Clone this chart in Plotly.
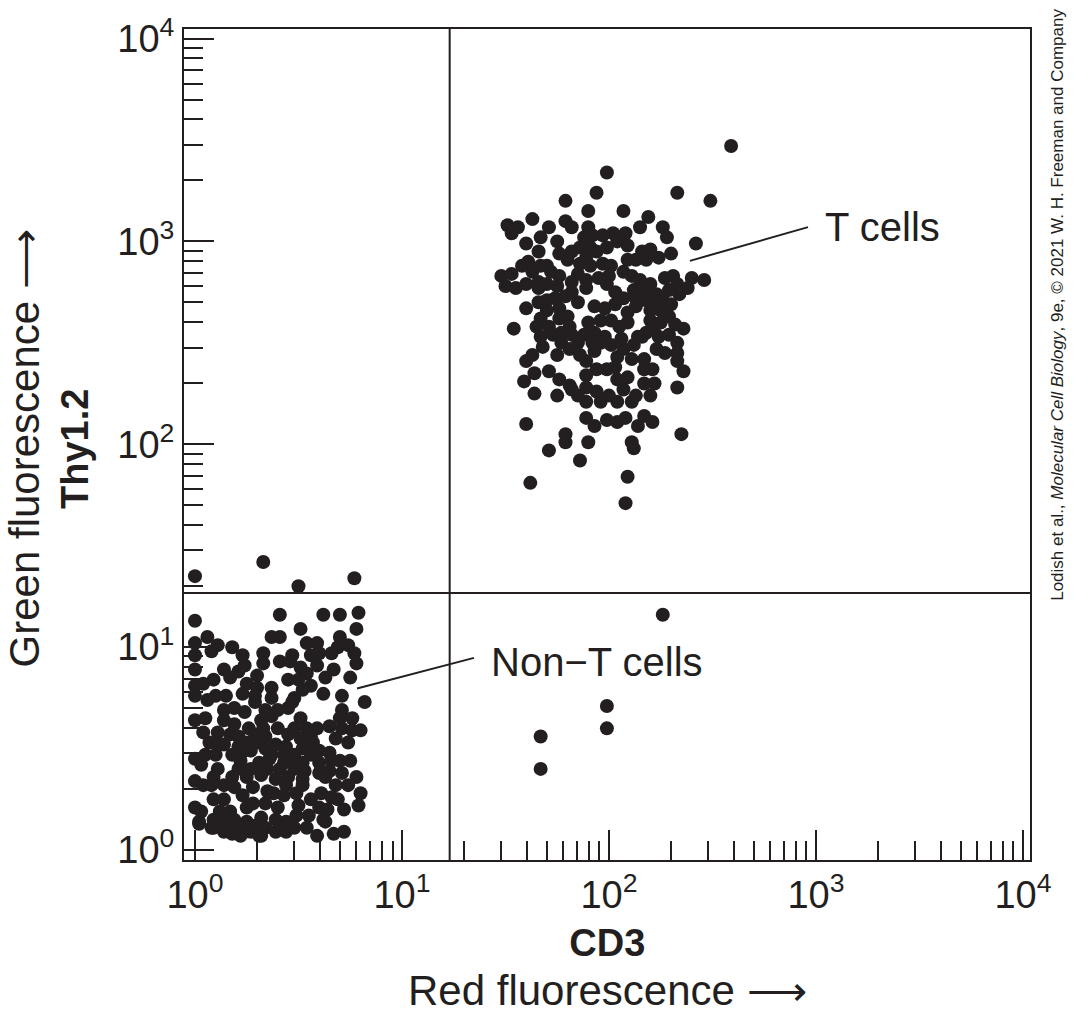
import plotly.graph_objects as go

# ---- data: (log10 CD3 red fluorescence, log10 Thy1.2 green fluorescence) ----
t_cells_log10 = [
    (2.59,3.47),(1.99,3.34),(1.94,3.24),(2.33,3.24),(2.49,3.20),(1.79,3.20),(1.90,3.15),(2.07,3.15),(1.63,3.11),(1.79,3.10),
    (2.19,3.12),(1.51,3.08),(1.56,3.07),(1.53,3.04),(1.71,3.07),(1.82,3.07),(1.90,3.07),(2.15,3.07),(2.26,3.07),(1.67,3.02),
    (1.60,2.99),(1.75,3.00),(1.88,3.02),(1.92,3.03),(1.97,3.03),(2.02,3.04),(2.08,3.04),(2.28,3.02),(2.42,2.99),(2.04,3.00),
    (2.09,2.98),(1.66,2.95),(1.76,2.94),(1.82,2.95),(1.86,2.97),(1.91,2.97),(1.94,2.95),(1.99,2.97),(2.16,2.95),(2.20,2.96),
    (2.30,2.94),(2.24,2.92),(1.61,2.90),(1.80,2.91),(2.09,2.91),(2.13,2.91),(2.18,2.91),(1.89,2.92),
    (1.48,2.83),(1.53,2.84),(1.50,2.78),(1.55,2.77),(1.58,2.88),(1.63,2.85),(1.60,2.79),(1.67,2.88),(1.70,2.88),(1.72,2.85),
    (1.76,2.83),(1.66,2.80),(1.66,2.77),(1.70,2.79),(1.75,2.78),(1.82,2.80),(1.82,2.75),(1.85,2.84),(1.89,2.81),(1.89,2.77),
    (1.95,2.82),(1.99,2.79),(2.00,2.83),(2.03,2.75),(1.86,2.89),(1.91,2.88),(1.97,2.89),(2.01,2.88),(2.07,2.85),(2.11,2.83),
    (2.15,2.81),(2.20,2.79),(2.12,2.76),(2.17,2.75),(2.23,2.74),(2.27,2.82),(2.31,2.83),(2.33,2.79),(2.38,2.77),(2.40,2.82),
    (2.46,2.81),(2.34,2.74),(2.29,2.76),(2.26,2.71),(2.30,2.69),(2.21,2.71),(2.18,2.71),(2.13,2.72),(2.07,2.72),(2.13,2.68),
    (2.20,2.66),(2.25,2.66),(2.09,2.65),(2.03,2.69),(1.98,2.67),(1.93,2.68),(1.85,2.70),(1.79,2.73),(1.74,2.72),(1.70,2.71),
    (1.66,2.70),(1.76,2.67),(1.60,2.67),(1.70,2.66),(1.67,2.62),(1.76,2.62),(1.80,2.63),(1.54,2.57),(1.65,2.58),(1.71,2.58),
    (1.81,2.58),(1.90,2.60),(1.96,2.61),(2.01,2.61),(2.05,2.58),(2.09,2.60),(2.20,2.61),(2.25,2.60),(2.29,2.63),(2.32,2.59),
    (2.36,2.57),(2.29,2.54),(2.24,2.53),(2.18,2.55),(2.14,2.53),(2.22,2.58),(2.06,2.52),(1.98,2.53),(1.93,2.55),(1.88,2.54),
    (1.82,2.54),(1.77,2.55),(1.73,2.54),(1.67,2.53),(1.77,2.50),(1.81,2.47),(1.85,2.50),(1.92,2.50),(1.96,2.50),(2.01,2.49),
    (2.12,2.49),(2.16,2.53),(2.23,2.47),(2.27,2.45),(2.33,2.50),(2.33,2.45),(1.68,2.48),(1.63,2.44),(1.60,2.41),(1.75,2.44),
    (1.86,2.44),(1.93,2.46),(1.89,2.41),(2.04,2.43),(2.07,2.47),(2.11,2.42),(2.17,2.42),(2.33,2.41),(2.36,2.36),(2.17,2.37),
    (2.21,2.37),(2.09,2.33),(2.03,2.38),(1.99,2.37),(1.94,2.37),(1.89,2.34),(1.76,2.32),(1.71,2.36),(1.64,2.35),(1.59,2.31),
    (1.81,2.29),(2.04,2.32),(2.17,2.30),(2.22,2.30),(2.33,2.28),
    (1.64,2.25),(1.75,2.24),(1.82,2.27),(1.85,2.24),(1.89,2.28),(1.89,2.21),(1.94,2.26),(1.96,2.21),(2.00,2.24),(2.04,2.21),
    (2.07,2.27),(2.11,2.21),(2.13,2.24),(2.20,2.24),(1.60,2.10),(1.89,2.13),(1.93,2.09),(1.99,2.12),(2.04,2.11),(2.08,2.13),
    (2.14,2.09),(2.17,2.14),(2.21,2.11),(2.35,2.05),(1.79,2.05),(1.79,2.01),(1.90,2.01),(1.71,1.97),(2.11,2.01),(2.12,1.98),
    (1.86,1.92),(2.09,1.84),(1.62,1.81),(2.08,1.71),
]

non_t_cells_log10 = [
    (0.00,1.13),(0.41,1.16),(0.62,1.16),(0.70,1.16),(0.79,1.17),(0.51,1.09),(0.78,1.09),(0.06,1.05),(0.37,1.05),(0.41,1.05),
    (0.70,1.05),(0.00,1.02),(0.11,1.01),(0.08,0.98),(0.18,1.00),(0.23,0.96),(0.33,0.97),(0.54,1.02),(0.59,1.02),(0.69,1.00),
    (0.74,1.01),(0.00,0.96),(0.33,0.92),(0.41,0.93),(0.47,0.96),(0.46,0.93),(0.56,0.96),(0.60,0.97),(0.66,0.97),(0.77,0.97),
    (0.78,0.92),(0.59,0.91),(0.51,0.90),(0.00,0.89),(0.14,0.89),(0.21,0.88),(0.24,0.91),(0.54,0.87),(0.67,0.89),(0.63,0.85),
    (0.75,0.85),(0.09,0.84),(0.17,0.85),(0.30,0.86),(0.45,0.84),(0.50,0.84),(0.04,0.82),(0.00,0.81),(0.25,0.82),(0.56,0.81),
    (0.52,0.79),(0.30,0.80),(0.37,0.80),(0.00,0.76),(0.10,0.76),(0.15,0.76),(0.23,0.77),(0.29,0.76),(0.37,0.75),(0.48,0.75),
    (0.62,0.77),(0.71,0.76),(0.06,0.74),(0.82,0.73),(0.29,0.73),(0.47,0.73),(0.14,0.69),(0.19,0.70),(0.24,0.68),(0.34,0.69),
    (0.40,0.69),(0.45,0.70),(0.71,0.69),(0.00,0.64),(0.05,0.65),(0.14,0.64),(0.32,0.64),(0.37,0.66),(0.51,0.65),(0.70,0.65),
    (0.76,0.65),(0.19,0.62),(0.26,0.60),(0.33,0.60),(0.40,0.60),(0.48,0.60),(0.54,0.60),(0.59,0.60),(0.65,0.61),(0.71,0.60),
    (0.76,0.59),(0.80,0.59),(0.04,0.58),(0.11,0.58),(0.17,0.57),(0.21,0.56),(0.29,0.57),(0.34,0.56),(0.45,0.57),(0.51,0.55),
    (0.56,0.56),(0.68,0.55),(0.74,0.53),(0.07,0.53),(0.11,0.52),(0.14,0.52),(0.21,0.51),(0.25,0.53),(0.30,0.53),(0.39,0.52),
    (0.44,0.51),(0.57,0.53),(0.52,0.50),(0.24,0.49),(0.27,0.49),(0.34,0.50),(0.05,0.47),(0.10,0.47),(0.18,0.47),(0.37,0.47),
    (0.43,0.47),(0.48,0.47),(0.56,0.47),(0.60,0.49),(0.65,0.48),(0.00,0.45),(0.03,0.42),(0.22,0.44),(0.31,0.43),(0.36,0.45),
    (0.43,0.43),(0.48,0.44),(0.52,0.43),(0.60,0.43),(0.66,0.44),(0.70,0.44),(0.75,0.44),(0.11,0.40),(0.21,0.40),(0.27,0.40),
    (0.35,0.40),(0.41,0.40),(0.48,0.40),(0.53,0.39),(0.60,0.38),(0.65,0.39),(0.71,0.38),(0.00,0.34),(0.09,0.36),(0.18,0.36),
    (0.25,0.36),(0.32,0.37),(0.39,0.35),(0.45,0.36),(0.52,0.35),(0.63,0.36),(0.78,0.36),(0.04,0.32),(0.08,0.32),(0.14,0.32),
    (0.19,0.31),(0.28,0.31),(0.35,0.29),(0.44,0.32),(0.52,0.32),(0.68,0.32),(0.74,0.32),(0.23,0.27),(0.38,0.28),(0.43,0.27),
    (0.49,0.28),(0.61,0.28),(0.66,0.26),(0.80,0.28),(0.09,0.25),(0.14,0.25),(0.34,0.23),(0.56,0.25),(0.69,0.25),(0.00,0.21),
    (0.03,0.19),(0.12,0.19),(0.17,0.19),(0.25,0.21),(0.28,0.23),(0.40,0.21),(0.50,0.22),(0.60,0.21),(0.64,0.20),(0.72,0.20),
    (0.79,0.22),(0.02,0.14),(0.09,0.15),(0.14,0.15),(0.19,0.15),(0.25,0.14),(0.32,0.16),(0.39,0.15),(0.44,0.14),(0.49,0.17),
    (0.55,0.17),(0.62,0.15),(0.09,0.11),(0.13,0.11),(0.18,0.12),(0.22,0.11),(0.29,0.12),(0.34,0.11),(0.39,0.09),(0.43,0.11),
    (0.48,0.11),(0.54,0.11),(0.14,0.09),(0.19,0.09),(0.24,0.09),(0.32,0.07),(0.59,0.07),(0.67,0.08),(0.72,0.09),(0.02,0.13),
    (0.08,0.11),(0.18,0.08),(0.22,0.07),(0.27,0.09),(0.31,0.07),(0.44,0.09),(0.63,0.14),
]

other_events_log10 = [
    (0.00,1.35),(0.33,1.42),(0.50,1.30),(0.77,1.34),
    (2.26,1.16),(1.99,0.71),(1.99,0.60),(1.67,0.56),(1.67,0.40),
]

gate_cd3 = 17.0      # vertical quadrant gate (CD3)
gate_thy = 18.5      # horizontal quadrant gate (Thy1.2)

major_vals = [1, 10, 100, 1000, 10000]
major_text = ["10<sup>0</sup>", "10<sup>1</sup>", "10<sup>2</sup>", "10<sup>3</sup>", "10<sup>4</sup>"]
minor_vals = [k * 10 ** d for d in range(4) for k in range(2, 10)]

INK = "#231f20"
FONT = "Liberation Sans, Arial, Helvetica, sans-serif"

all_events = t_cells_log10 + non_t_cells_log10 + other_events_log10
xs = [10 ** a for a, b in all_events]
ys = [10 ** b for a, b in all_events]

fig = go.Figure()
fig.add_trace(go.Scatter(
    x=xs, y=ys, mode="markers",
    marker=dict(size=14, color=INK, line=dict(width=0)),
    hoverinfo="skip", showlegend=False,
))
# quadrant gates
fig.add_trace(go.Scatter(x=[gate_cd3, gate_cd3], y=[0.5, 20000], mode="lines",
                         line=dict(color=INK, width=2), hoverinfo="skip", showlegend=False))
fig.add_trace(go.Scatter(x=[0.5, 20000], y=[gate_thy, gate_thy], mode="lines",
                         line=dict(color=INK, width=2), hoverinfo="skip", showlegend=False))

axis_common = dict(
    type="log",
    showgrid=False, zeroline=False,
    showline=True, mirror=True, linecolor=INK, linewidth=2,
    ticks="inside", ticklen=30, tickwidth=2, tickcolor=INK,
    tickmode="array", tickvals=major_vals, ticktext=major_text,
    tickfont=dict(family=FONT, size=38, color=INK),
    minor=dict(ticks="inside", ticklen=19, tickwidth=2, tickcolor=INK,
               tickmode="array", tickvals=minor_vals, showgrid=False),
)

fig.update_layout(
    width=1074, height=1017,
    margin=dict(l=184, r=44, t=17, b=157),
    paper_bgcolor="white", plot_bgcolor="white",
    xaxis=dict(range=[-0.053, 4.034], **axis_common),
    yaxis=dict(range=[-0.049, 4.047], **axis_common),
    font=dict(family=FONT, color=INK),
)

# leader lines for labels
fig.add_shape(type="line", xref="paper", yref="paper", x0=0.598, y0=0.721, x1=0.7376, y1=0.7616,
              line=dict(color=INK, width=2))
fig.add_shape(type="line", xref="paper", yref="paper", x0=0.2045, y0=0.2064, x1=0.3428, y1=0.2432,
              line=dict(color=INK, width=2))

ann = [
    dict(text="T cells", x=0.826, y=0.7616, size=40),
    dict(text="Non\u2212T cells", x=0.4876, y=0.2384, size=40),
]
for a in ann:
    fig.add_annotation(text=a["text"], x=a["x"], y=a["y"], xref="paper", yref="paper",
                       showarrow=False, xanchor="center", yanchor="middle",
                       font=dict(family=FONT, size=a["size"], color=INK))

# bottom axis caption (two lines), kept inside the page
fig.add_annotation(text="<b>CD3</b><br><span style=\"font-size:42px\">Red fluorescence \u27f6</span>",
                   x=0.5, y=-157 / 843, xref="paper", yref="paper",
                   showarrow=False, xanchor="center", yanchor="bottom", borderpad=0,
                   font=dict(family=FONT, size=38, color=INK))

fig.add_annotation(text="<b>Thy1.2</b>", x=-0.1288, y=0.4947, xref="paper", yref="paper",
                   showarrow=False, textangle=-90, xanchor="center", yanchor="middle",
                   font=dict(family=FONT, size=38, color=INK))
# left axis caption, kept inside the page
fig.add_annotation(text="Green fluorescence \u27f6", x=-184 / 846, y=0.4947, xref="paper", yref="paper",
                   showarrow=False, textangle=-90, xanchor="left", yanchor="middle", borderpad=0,
                   font=dict(family=FONT, size=42, color=INK))
fig.add_annotation(text="Lodish et al., <i>Molecular Cell Biology</i>, 9e, \u00a9 2021 W. H. Freeman and Company",
                   x=1.033, y=0.668, xref="paper", yref="paper",
                   showarrow=False, textangle=-90, xanchor="center", yanchor="middle",
                   font=dict(family=FONT, size=17, color=INK))

fig.write_html("out.html")
